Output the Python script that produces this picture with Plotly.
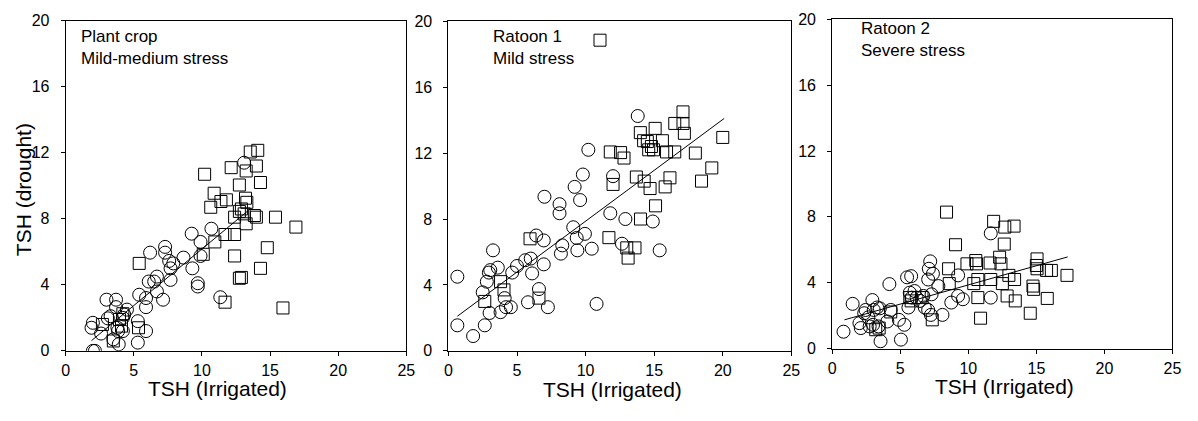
import plotly.graph_objects as go

# ---------------- data ----------------
p1_circle_x = [2.0, 2.15, 1.9, 2.0, 2.6, 3.0, 3.7, 3.7, 3.3, 3.5, 3.9, 3.8, 4.2, 4.5, 4.2, 4.3, 5.3, 5.3, 5.4, 5.9,
               5.9, 5.9, 6.2, 6.1, 6.5, 6.7, 6.7, 7.15, 7.3, 7.3, 7.6, 7.7, 7.9, 7.7, 8.65, 9.25, 9.3, 9.7, 9.7,
               9.9, 9.9, 10.7, 11.35, 13.1, 3.1, 3.85]
p1_circle_y = [0.0, 0.0, 1.4, 1.7, 1.05, 3.1, 3.1, 2.65, 2.1, 0.7, 0.4, 1.4, 2.0, 2.5, 1.2, 2.2, 0.5, 1.8, 3.4, 2.65,
               1.2, 3.2, 5.95, 4.2, 4.2, 4.5, 3.6, 3.1, 6.3, 5.95, 5.45, 5.0, 5.3, 4.3, 5.65, 7.1, 5.0, 4.1, 3.9,
               6.6, 5.75, 7.4, 3.25, 11.4, 1.97, 1.2]
p1_square_x = [2.7, 3.5, 3.95, 4.1, 4.2, 5.35, 5.4, 10.1, 10.2, 10.65, 10.9, 11.4, 11.8, 10.95, 12.15, 12.75, 11.7,
               12.4, 12.4, 12.75, 12.9, 11.7, 13.55, 14.1, 14.0, 13.25, 14.3, 13.2, 13.3, 12.75, 12.4, 13.85, 14.0,
               15.4, 16.9, 13.25, 14.8, 14.3, 15.95, 12.9, 13.1]
p1_square_y = [1.6, 0.6, 1.9, 1.5, 2.25, 1.4, 5.3, 5.85, 10.7, 8.7, 9.55, 9.05, 9.15, 6.6, 11.1, 10.05, 7.05,
               7.05, 5.75, 4.4, 4.45, 2.95, 12.05, 12.15, 11.2, 10.9, 10.2, 9.25, 9.0, 8.45, 8.1, 8.2, 8.1,
               8.1, 7.5, 7.7, 6.25, 5.0, 2.6, 8.6, 8.3]
p1_fit_x = [1.9, 13.4]
p1_fit_y = [0.62, 8.5]

p2_circle_x = [0.65, 0.65, 1.8, 2.65, 2.5, 2.8, 2.95, 3.05, 3.0, 3.25, 3.6, 3.8, 4.1, 4.2, 4.55, 4.65, 5.0, 5.6,
               6.0, 6.1, 5.8, 6.4, 6.95, 6.95, 6.6, 7.25, 7.0, 8.1, 8.1, 8.2, 8.3, 9.1, 9.2, 9.35, 9.6, 9.8, 9.4,
               9.95, 10.2, 10.45, 10.8, 11.8, 12.0, 12.65, 12.9, 13.8, 14.9, 15.4]
p2_circle_y = [4.5, 1.55, 0.9, 1.55, 3.55, 4.2, 4.75, 4.9, 2.3, 6.1, 5.05, 2.35, 3.2, 2.65, 2.65, 4.75, 5.15, 5.5,
               5.6, 4.7, 2.95, 7.0, 6.7, 5.25, 3.75, 2.65, 9.35, 8.9, 8.35, 5.9, 6.4, 7.5, 9.95, 6.85, 9.15, 10.7,
               6.1, 7.1, 12.2, 6.2, 2.85, 8.35, 10.6, 6.5, 8.0, 14.25, 7.85, 6.1]
p2_square_x = [2.65, 3.8, 4.05, 6.6, 5.95, 11.05, 11.8, 12.55, 12.8, 12.0, 11.7, 13.0, 13.6, 13.1, 13.7, 14.27,
               14.7, 14.0, 15.1, 15.8, 16.15, 13.99, 14.23, 15.07, 14.6, 14.95, 14.8, 15.6, 15.9, 16.5, 17.1,
               16.5, 17.1, 17.2, 18.0, 18.45, 19.2, 20.0, 14.5]
p2_square_y = [3.0, 4.2, 3.7, 3.2, 6.8, 18.85, 12.07, 12.03, 11.7, 10.1, 6.87, 6.25, 6.25, 5.63, 10.55, 10.3,
               9.85, 8.0, 8.8, 9.95, 10.5, 13.24, 12.75, 13.5, 12.2, 12.2, 12.4, 12.75, 12.07, 12.07, 14.5,
               13.8, 13.8, 13.2, 12.0, 10.3, 11.1, 12.95, 12.7]
p2_fit_x = [0.65, 20.1]
p2_fit_y = [2.1, 14.1]

p3_circle_x = [0.83, 1.5, 2.0, 2.1, 2.35, 2.45, 2.75, 2.95, 3.05, 3.3, 3.5, 3.4, 3.55, 4.05, 4.2, 4.3, 4.9, 5.05,
               5.3, 5.5, 5.6, 5.7, 5.8, 5.85, 6.05, 6.2, 6.45, 6.7, 6.8, 7.05, 7.1, 7.2, 7.4, 7.05, 7.3, 7.25, 7.8,
               8.1, 8.75, 9.25, 9.25, 9.6, 11.65, 11.65, 2.65, 3.0]
p3_circle_y = [1.03, 2.72, 1.55, 1.25, 2.15, 2.35, 1.35, 2.95, 2.35, 2.5, 2.45, 1.35, 0.45, 1.65, 3.92, 2.35, 1.75,
               0.55, 1.45, 4.33, 2.5, 3.4, 4.4, 3.1, 3.5, 3.1, 2.9, 3.2, 2.5, 2.35, 4.85, 5.3, 4.55, 4.2, 3.3, 2.05,
               3.8, 2.05, 2.8, 4.45, 3.2, 3.0, 7.0, 3.1, 1.9, 1.45]
p3_square_x = [3.2, 3.45, 4.3, 5.7, 5.8, 6.6, 7.35, 8.4, 8.55, 8.6, 9.06, 9.9, 10.55, 10.6, 10.4, 10.7, 10.7, 10.9,
               11.6, 11.65, 11.86, 12.3, 12.4, 12.64, 12.68, 13.36, 12.5, 12.98, 12.85, 13.45, 13.4, 14.75, 14.8,
               14.55, 15.05, 15.0, 15.05, 15.75, 16.1, 15.8, 17.25]
p3_square_y = [1.15, 1.25, 2.23, 3.1, 2.9, 3.1, 1.75, 8.29, 4.85, 3.95, 6.31, 5.15, 5.35, 5.15, 3.95, 4.2, 3.1, 1.85,
               5.2, 4.2, 7.73, 5.55, 5.15, 6.35, 7.38, 7.44, 3.95, 4.45, 3.2, 2.9, 4.2, 3.8, 3.6,
               2.15, 5.45, 5.05, 4.85, 4.75, 4.75, 3.05, 4.45]
p3_fit_x = [0.9, 17.3]
p3_fit_y = [1.75, 5.57]

panel_labels = [["Plant crop", "Mild-medium stress"], ["Ratoon 1", "Mild stress"], ["Ratoon 2", "Severe stress"]]
x_title = "TSH (Irrigated)"
y_title = "TSH (drought)"
x_ticks = [0, 5, 10, 15, 20, 25]
y_ticks = [0, 4, 8, 12, 16, 20]

# ---------------- layout geometry (pixels) ----------------
W, H = 1198, 421
FONT = "Liberation Sans, Arial, sans-serif"


def fx(px):
    return px / W


def fy(py):
    return 1 - py / H


panels = [
    dict(left=62.3, right=406.7, top=13.3, bottom=357.3, cx=p1_circle_x, cy=p1_circle_y, sx=p1_square_x,
         sy=p1_square_y, fxv=p1_fit_x, fyv=p1_fit_y, lab_x=76, lab_y=30, title_x=216, title_y=396),
    dict(left=449.3, right=796.0, top=13.8, bottom=357.3, cx=p2_circle_x, cy=p2_circle_y, sx=p2_square_x,
         sy=p2_square_y, fxv=p2_fit_x, fyv=p2_fit_y, lab_x=492, lab_y=30, title_x=615, title_y=398),
    dict(left=837.3, right=1181.3, top=11.7, bottom=355.0, cx=p3_circle_x, cy=p3_circle_y, sx=p3_square_x,
         sy=p3_square_y, fxv=p3_fit_x, fyv=p3_fit_y, lab_x=864, lab_y=21, title_x=1011, title_y=394),
]

fig = go.Figure()
annotations = []
for i, p in enumerate(panels):
    n = "" if i == 0 else str(i + 1)
    xa, ya = "x" + n, "y" + n
    fig.add_trace(go.Scatter(x=p["cx"], y=p["cy"], mode="markers", xaxis=xa, yaxis=ya, showlegend=False,
                             marker=dict(symbol="circle-open", size=13, color="black", line=dict(width=1))))
    fig.add_trace(go.Scatter(x=p["sx"], y=p["sy"], mode="markers", xaxis=xa, yaxis=ya, showlegend=False,
                             marker=dict(symbol="square-open", size=12, color="black", line=dict(width=1))))
    fig.add_trace(go.Scatter(x=p["fxv"], y=p["fyv"], mode="lines", xaxis=xa, yaxis=ya, showlegend=False,
                             line=dict(color="black", width=1)))
    axis_common = dict(showgrid=False, zeroline=False, showline=True, linecolor="black", linewidth=1,
                       mirror=True, ticks="outside", ticklen=4, tickcolor="black", tickwidth=1,
                       tickfont=dict(family=FONT, size=16, color="black"))
    fig.update_layout(**{
        "xaxis" + n: dict(domain=[fx(p["left"]), fx(p["right"])], range=[0, 25], tickvals=x_ticks,
                          anchor=ya, ticklabelstandoff=1, **axis_common),
        "yaxis" + n: dict(domain=[fy(p["bottom"]), fy(p["top"])], range=[0, 20], tickvals=y_ticks,
                          anchor=xa, ticklabelstandoff=8, **axis_common),
    })
    annotations.append(dict(x=fx(p["lab_x"]), y=fy(p["lab_y"]), xref="paper", yref="paper",
                            text=panel_labels[i][0] + "<br>" + panel_labels[i][1], showarrow=False,
                            xanchor="left", yanchor="middle", align="left",
                            font=dict(family=FONT, size=17, color="black"), yshift=-11))
    annotations.append(dict(x=fx(p["title_x"]), y=fy(p["title_y"]), xref="paper", yref="paper", text=x_title,
                            showarrow=False, xanchor="center", yanchor="middle",
                            font=dict(family=FONT, size=21, color="black")))

annotations.append(dict(x=fx(20), y=fy(189), xref="paper", yref="paper", text=y_title, textangle=-90,
                        showarrow=False, xanchor="center", yanchor="middle",
                        font=dict(family=FONT, size=21, color="black")))

fig.update_layout(width=W, height=H, margin=dict(l=0, r=0, t=0, b=0), paper_bgcolor="white",
                  plot_bgcolor="white", annotations=annotations)

fig.write_html("out.html")
